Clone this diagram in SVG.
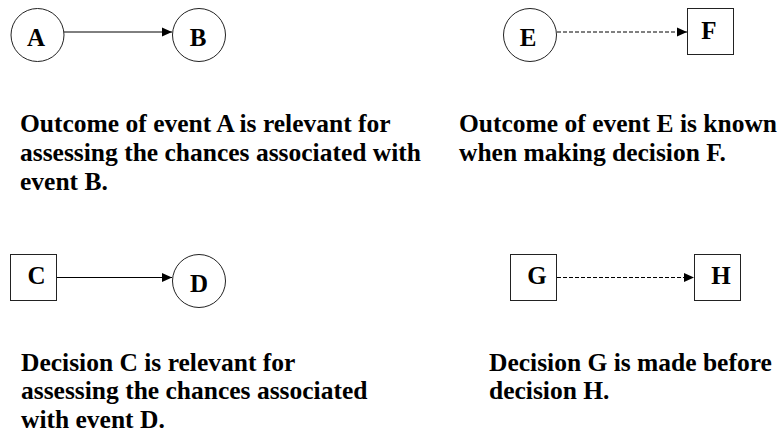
<svg xmlns="http://www.w3.org/2000/svg" width="780" height="435" viewBox="0 0 780 435">
<defs>
<style>
.n{fill:#fff;stroke:#222;stroke-width:1}
.l{font-family:"Liberation Serif","Times New Roman",serif;font-weight:bold;font-size:25px;fill:#000;text-anchor:middle}
.t{font-family:"Liberation Serif","Times New Roman",serif;font-weight:bold;font-size:25.5px;fill:#000}
.c{stroke:#000;stroke-width:1;fill:none}
.d{stroke-dasharray:4,2}
</style>
<marker id="ah" markerWidth="10" markerHeight="10" refX="10" refY="5" orient="auto" markerUnits="userSpaceOnUse">
<path d="M0,0.5 L10,5 L0,9.5 Z" fill="#000"/>
</marker>
</defs>
<rect width="780" height="435" fill="#fff"/>
<g id="connectors">
<line class="c" x1="64" y1="32" x2="172" y2="32" marker-end="url(#ah)"/>
<line class="c d" x1="557" y1="32" x2="687" y2="32" marker-end="url(#ah)"/>
<line class="c" x1="57" y1="277.5" x2="172" y2="277.5" marker-end="url(#ah)"/>
<line class="c d" x1="557" y1="277.5" x2="694" y2="277.5" marker-end="url(#ah)"/>
</g>
<g id="A"><circle class="n" cx="37.5" cy="35" r="26.5"/><text class="l" x="36" y="46">A</text></g>
<g id="B"><circle class="n" cx="199" cy="35" r="26.5"/><text class="l" x="198" y="46">B</text></g>
<g id="E"><circle class="n" cx="530" cy="35" r="26.5"/><text class="l" x="528" y="46">E</text></g>
<g id="F"><rect class="n" x="687.5" y="8.5" width="46" height="46"/><text class="l" x="709" y="39">F</text></g>
<g id="C"><rect class="n" x="10.5" y="254.5" width="46" height="46"/><text class="l" x="36.5" y="284">C</text></g>
<g id="D"><circle class="n" cx="199" cy="281" r="26.5"/><text class="l" x="199" y="292">D</text></g>
<g id="G"><rect class="n" x="510.5" y="254.5" width="46" height="46"/><text class="l" x="537" y="284">G</text></g>
<g id="H"><rect class="n" x="694.5" y="254.5" width="46" height="46"/><text class="l" x="721" y="284">H</text></g>
<g id="captions">
<text class="t" x="20" y="131.5">Outcome of event A is relevant for</text>
<text class="t" x="20" y="160.5">assessing the chances associated with</text>
<text class="t" x="20" y="189.5">event B.</text>
<text class="t" x="459" y="131.5">Outcome of event E is known</text>
<text class="t" x="459" y="160.5">when making decision F.</text>
<text class="t" x="21" y="370.5">Decision C is relevant for</text>
<text class="t" x="21" y="399">assessing the chances associated</text>
<text class="t" x="21" y="427.5">with event D.</text>
<text class="t" x="489" y="370.5">Decision G is made before</text>
<text class="t" x="489" y="399">decision H.</text>
</g>
</svg>
